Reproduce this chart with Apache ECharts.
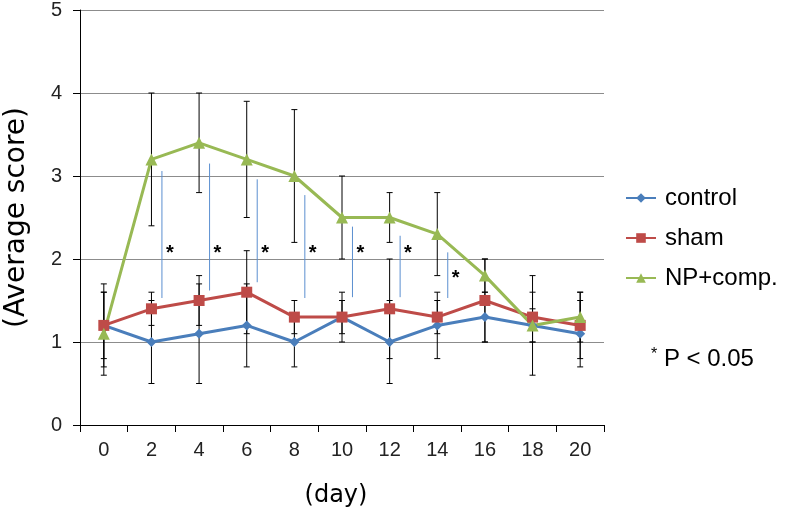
<!DOCTYPE html>
<html><head><meta charset="utf-8">
<script src="https://cdn.jsdelivr.net/npm/echarts@6/dist/echarts.min.js"></script>
<style>html,body{margin:0;padding:0;background:#fff}#c{width:786px;height:509px}</style>
</head><body><div id="c"></div>
<script>
const days = ['0','2','4','6','8','10','12','14','16','18','20'];
const controlMean = [1.2,1.0,1.1,1.2,1.0,1.3,1.0,1.2,1.3,1.2,1.1];
const controlErr  = [0.5,0.5,0.6,0.5,0.3,0.3,0.5,0.4,0.3,0.6,0.4];
const shamMean    = [1.2,1.4,1.5,1.6,1.3,1.3,1.4,1.3,1.5,1.3,1.2];
const shamErr     = [0.4,0.2,0.3,0.5,0.2,0.2,0.6,0.2,0.5,0.3,0.4];
const npMean      = [1.1,3.2,3.4,3.2,3.0,2.5,2.5,2.3,1.8,1.2,1.3];
const npErr       = [0.5,0.8,0.6,0.7,0.8,0.5,0.3,0.5,0.2,0.2,0.3];
// significance markers: category index they follow, line top/bottom, asterisk level
const sigIdx    = [1,2,3,4,5,6,7];
const sigTop    = [3.06,3.15,2.96,2.77,2.39,2.28,2.08];
const sigBottom = [1.53,1.62,1.72,1.53,1.54,1.54,1.53];
const sigStar   = [2.1,2.1,2.1,2.1,2.1,2.1,1.8];
const yTicks = [0,1,2,3,4,5];

const FONT = 'Liberation Sans, Arial, sans-serif';
const NAMEFONT = 'DejaVu Sans, sans-serif';
const COLORS = {control:'#4A7EBB', sham:'#BE4B48', np:'#98B954'};

function errData(mean, err){ return mean.map((m,i)=>[i, m, err[i]]); }
function errSeries(name, mean, err){
  return {
    type:'custom', name: name + ' err', z: 3, silent:true,
    data: errData(mean, err),
    renderItem(params, api){
      const i = api.value(0), m = api.value(1), e = api.value(2);
      const hi = api.coord([i, m+e]), lo = api.coord([i, m-e]);
      const w = 3;
      return {type:'group', children:[
        {type:'line', shape:{x1:hi[0],y1:hi[1],x2:lo[0],y2:lo[1]}, style:{stroke:'#000',lineWidth:1}},
        {type:'line', shape:{x1:hi[0]-w,y1:hi[1],x2:hi[0]+w,y2:hi[1]}, style:{stroke:'#000',lineWidth:1}},
        {type:'line', shape:{x1:lo[0]-w,y1:lo[1],x2:lo[0]+w,y2:lo[1]}, style:{stroke:'#000',lineWidth:1}}
      ]};
    }
  };
}

const chart = echarts.init(document.getElementById('c'), null, {renderer:'canvas'});
chart.setOption({
  animation:false,
  textStyle:{fontFamily:FONT},
  grid:{left:80, right:182, top:10, bottom:84, containLabel:false, outerBoundsMode:'none'},
  legend:{
    orient:'vertical', left:620, top:181, itemGap:16, itemWidth:30, itemHeight:12,
    textStyle:{fontSize:24, color:'#000', fontFamily:FONT, padding:[0,0,0,4]},
    data:['control','sham','NP+comp.']
  },
  xAxis:{
    type:'category', data:days, boundaryGap:true,
    name:'(day)', nameLocation:'middle', nameGap:59,
    nameTextStyle:{fontSize:24, color:'#000', fontFamily:NAMEFONT, padding:[0,12,0,0]},
    axisLine:{lineStyle:{color:'#000', width:1}},
    axisTick:{show:true, length:7, inside:false, lineStyle:{color:'#000'}},
    axisLabel:{fontSize:20, color:'#222', margin:15, fontFamily:FONT},
    splitLine:{show:false}
  },
  yAxis:{
    type:'value', min:yTicks[0], max:yTicks[yTicks.length-1], interval:1,
    name:'(Average score)', nameLocation:'middle', nameGap:49,
    nameTextStyle:{fontSize:28, color:'#000', fontFamily:NAMEFONT},
    axisLine:{show:true, lineStyle:{color:'#000', width:1}},
    axisTick:{show:true, length:7, lineStyle:{color:'#000'}},
    axisLabel:{fontSize:20, color:'#222', margin:18, fontFamily:FONT},
    splitLine:{show:true, lineStyle:{color:'#8c8c8c', width:1}}
  },
  series:[
    errSeries('control', controlMean, controlErr),
    errSeries('sham', shamMean, shamErr),
    errSeries('NP+comp.', npMean, npErr),
    {
      type:'custom', name:'sig', z:2, silent:true,
      data: sigIdx.map((c,k)=>[c, sigTop[k], sigBottom[k], sigStar[k]]),
      renderItem(params, api){
        const c = api.value(0);
        const band = api.size([1,0])[0];
        const t = api.coord([c, api.value(1)]), b = api.coord([c, api.value(2)]), s = api.coord([c, api.value(3)]);
        const lx = t[0] + band*0.22, sx = t[0] + band*0.385;
        return {type:'group', children:[
          {type:'line', shape:{x1:lx,y1:t[1],x2:lx,y2:b[1]}, style:{stroke:'#5B8FD0', lineWidth:1}},
          {type:'text', style:{x:sx, y:s[1]+3, text:'*', fill:'#000', font:'bold 20px '+FONT, textAlign:'center', textVerticalAlign:'middle'}}
        ]};
      }
    },
    {
      name:'control', type:'line', data:controlMean, z:5,
      symbol:'diamond', symbolSize:10,
      lineStyle:{color:COLORS.control, width:3}, itemStyle:{color:COLORS.control}
    },
    {
      name:'sham', type:'line', data:shamMean, z:5,
      symbol:'rect', symbolSize:11,
      lineStyle:{color:COLORS.sham, width:3}, itemStyle:{color:COLORS.sham}
    },
    {
      name:'NP+comp.', type:'line', data:npMean, z:5,
      symbol:'triangle', symbolSize:12,
      lineStyle:{color:COLORS.np, width:3}, itemStyle:{color:COLORS.np}
    }
  ],
  graphic:[{
    type:'text', left:651, top:347,
    style:{text:'{a|*} P < 0.05', rich:{a:{fontSize:16, fontFamily:FONT, fill:'#000', verticalAlign:'top', padding:[0,0,8,0]}}, font:'24px '+FONT, fill:'#000'}
  }]
});
</script></body></html>
